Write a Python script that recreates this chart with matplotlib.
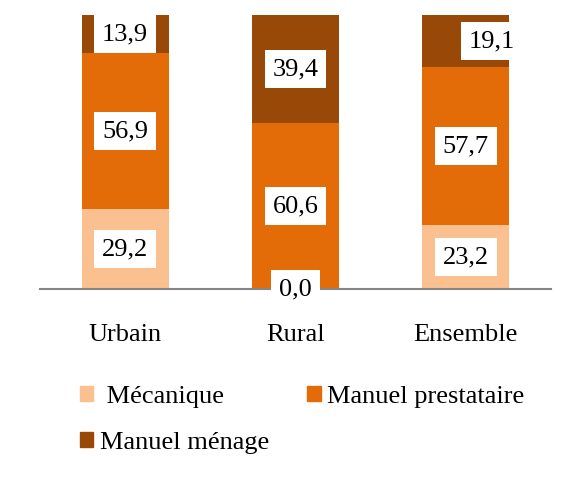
import matplotlib
matplotlib.use("Agg")
import matplotlib.pyplot as plt
from matplotlib.patches import Patch

plt.rcParams['font.family'] = ['Liberation Serif', 'DejaVu Serif']

categories = ["Urbain", "Rural", "Ensemble"]
series = ["Mécanique", "Manuel prestataire", "Manuel ménage"]
mecanique = [29.2, 0.0, 23.2]
prestataire = [56.9, 60.6, 57.7]
menage = [13.9, 39.4, 19.1]
colors = ["#FAC090", "#E36C09", "#984807"]

fig = plt.figure(figsize=(5.63, 4.96), dpi=100)
ax = fig.add_axes([40/563, 207/496, 511/563, 274/496])

x = list(range(len(categories)))
bottoms = [0.0] * len(x)
fs = 19
for vals, col in zip([mecanique, prestataire, menage], colors):
    ax.bar(x, vals, width=0.51, bottom=bottoms, color=col, zorder=2)
    for i, v in enumerate(vals):
        yc = bottoms[i] + v / 2
        xc = x[i]
        if col == colors[2] and i == 2:
            xc = x[i] + 0.155  # label pushed right in the source
        ax.text(xc, yc, f"{v:.1f}".replace(".", ","), ha="center", va="center",
                fontsize=fs, zorder=5,
                bbox=dict(boxstyle="square,pad=0.3", fc="white", ec="none"))
    bottoms = [b + v for b, v in zip(bottoms, vals)]

ax.set_xlim(-0.5, 2.5)
ax.set_ylim(0, 100)
ax.set_yticks([])
ax.set_xticks(x)
ax.set_xticklabels(categories, fontsize=fs)
ax.tick_params(axis="x", length=0, pad=25)
for s in ["top", "right", "left"]:
    ax.spines[s].set_visible(False)
ax.spines["bottom"].set_color("#868686")
ax.spines["bottom"].set_linewidth(1.5)
ax.spines["bottom"].set_zorder(3)

handles = [Patch(color=colors[0]), Patch(color=colors[2]), Patch(color=colors[1])]
labels = [" " + series[0], series[2], series[1]]
fig.legend(handles, labels, ncol=2, loc="upper left", bbox_to_anchor=(80/563, 1 - 386/496),
           frameon=False, fontsize=fs, handlelength=0.5, handleheight=0.5,
           handletextpad=0.25, columnspacing=1.45, labelspacing=0.9, borderpad=0, borderaxespad=0)

fig.savefig("out.png", dpi=100)
